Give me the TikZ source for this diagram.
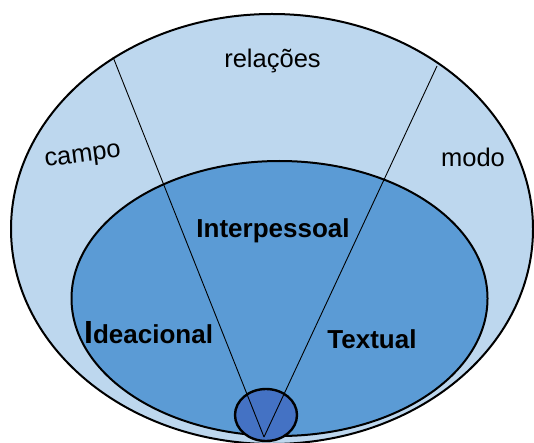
\documentclass[tikz,border=0pt]{standalone}
\usepackage{fontspec}
\setmainfont{Liberation Sans}
\definecolor{outerblue}{HTML}{BDD7EE}
\definecolor{innerblue}{HTML}{5B9BD5}
\definecolor{coreblue}{HTML}{4472C4}
\begin{document}
\begin{tikzpicture}[x=1pt,y=-1pt,
  ring/.style={draw=black,line width=2pt},
  ray/.style={draw=black,line width=0.9pt},
  lbl/.style={inner sep=0pt,anchor=base,font=\fontsize{25.5}{30}\selectfont},
  blbl/.style={inner sep=0pt,anchor=base,font=\fontsize{26}{30}\selectfont\bfseries}]
\useasboundingbox (0,0) rectangle (534,443);
\fill[white] (0,0) rectangle (534,443);
\filldraw[ring,fill=outerblue] (272,229) ellipse [x radius=261, y radius=215];
\filldraw[ring,fill=innerblue] (279.5,298.5) ellipse [x radius=208, y radius=137.5];
\filldraw[ring,line width=2.4pt,fill=coreblue] (266,415) ellipse [x radius=31, y radius=26];
\coordinate (apex) at (264,437);
\coordinate (lefttop) at (113,57);
\coordinate (righttop) at (437,66);
\draw[ray] (apex) -- (lefttop);
\draw[ray] (apex) -- (righttop);
\node[lbl] (relacoes) at (272.5,68) {relações};
\node[lbl,rotate=7.5] (campo) at (83.5,162) {campo};
\node[lbl] (modo) at (473,167) {modo};
\node[blbl] (interpessoal) at (273,237) {Interpessoal};
\node[blbl,anchor=base west] (ideacional) at (84,343) {{\fontsize{32}{36}\selectfont I}deacional};
\node[blbl] (textual) at (372,348) {Textual};
\end{tikzpicture}
\end{document}
